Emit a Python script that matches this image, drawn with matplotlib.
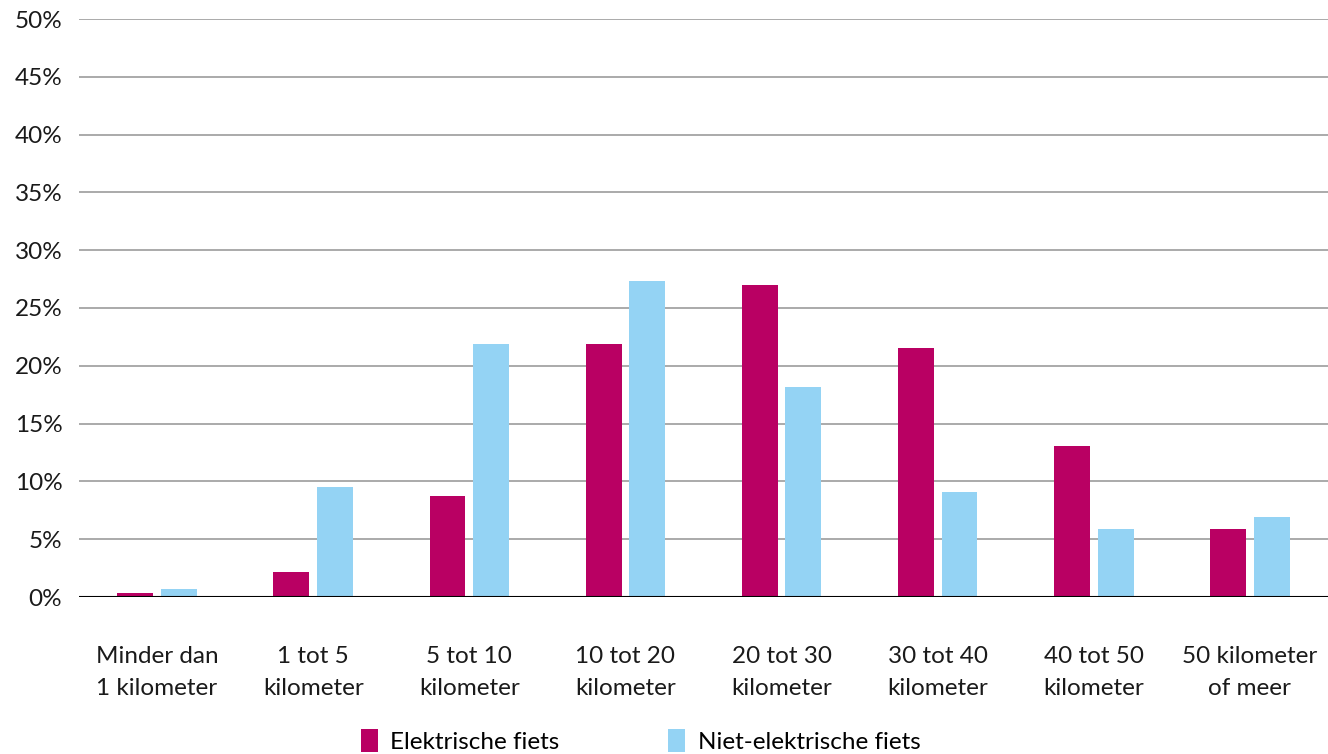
import matplotlib.pyplot as plt
import numpy as np

categories = ["Minder dan\n1 kilometer", "1 tot 5\nkilometer", "5 tot 10\nkilometer",
              "10 tot 20\nkilometer", "20 tot 30\nkilometer", "30 tot 40\nkilometer",
              "40 tot 50\nkilometer", "50 kilometer\nof meer"]
elektrisch = [0.35, 2.2, 8.7, 21.9, 27.0, 21.5, 13.1, 5.9]
niet_elektrisch = [0.7, 9.5, 21.9, 27.3, 18.2, 9.1, 5.9, 6.9]
yticks = [0, 5, 10, 15, 20, 25, 30, 35, 40, 45, 50]

plt.rcParams["font.family"] = ["Lato", "DejaVu Sans"]

fig = plt.figure(figsize=(13.28, 7.54), dpi=100)
ax = fig.add_axes([79 / 1328, 1 - 597 / 754, 1249 / 1328, (597 - 19) / 754])

x = np.arange(len(categories))
w = 0.23
ax.bar(x - 0.14, elektrisch, w, color="#B90063", label="Elektrische fiets", zorder=3)
ax.bar(x + 0.14, niet_elektrisch, w, color="#94D3F4", label="Niet-elektrische fiets", zorder=3)

ax.set_xlim(-0.5, len(categories) - 0.5)
ax.set_ylim(0, 50)
ax.set_yticks(yticks)
ax.set_yticklabels([f"{t}%" for t in yticks], fontsize=17.5, color="#1a1a1a")
ax.set_xticks(x)
ax.set_xticklabels(categories, fontsize=17.5, color="#1a1a1a", linespacing=1.65)
ax.tick_params(axis="both", length=0)
ax.tick_params(axis="x", pad=35)
ax.tick_params(axis="y", pad=12)

ax.grid(axis="y", color="#aaaaaa", linewidth=1.4, zorder=0)
ax.axhline(0, color="black", linewidth=1.5, zorder=4)
for s in ax.spines.values():
    s.set_visible(False)

fig.legend(loc="upper left", bbox_to_anchor=(346 / 1328, 1 - 714 / 754), ncol=2,
           frameon=False, fontsize=17.5, handlelength=0.7, handleheight=1.1,
           handletextpad=0.5, columnspacing=4.5, borderaxespad=0.2)

plt.savefig("out.png", dpi=100)
